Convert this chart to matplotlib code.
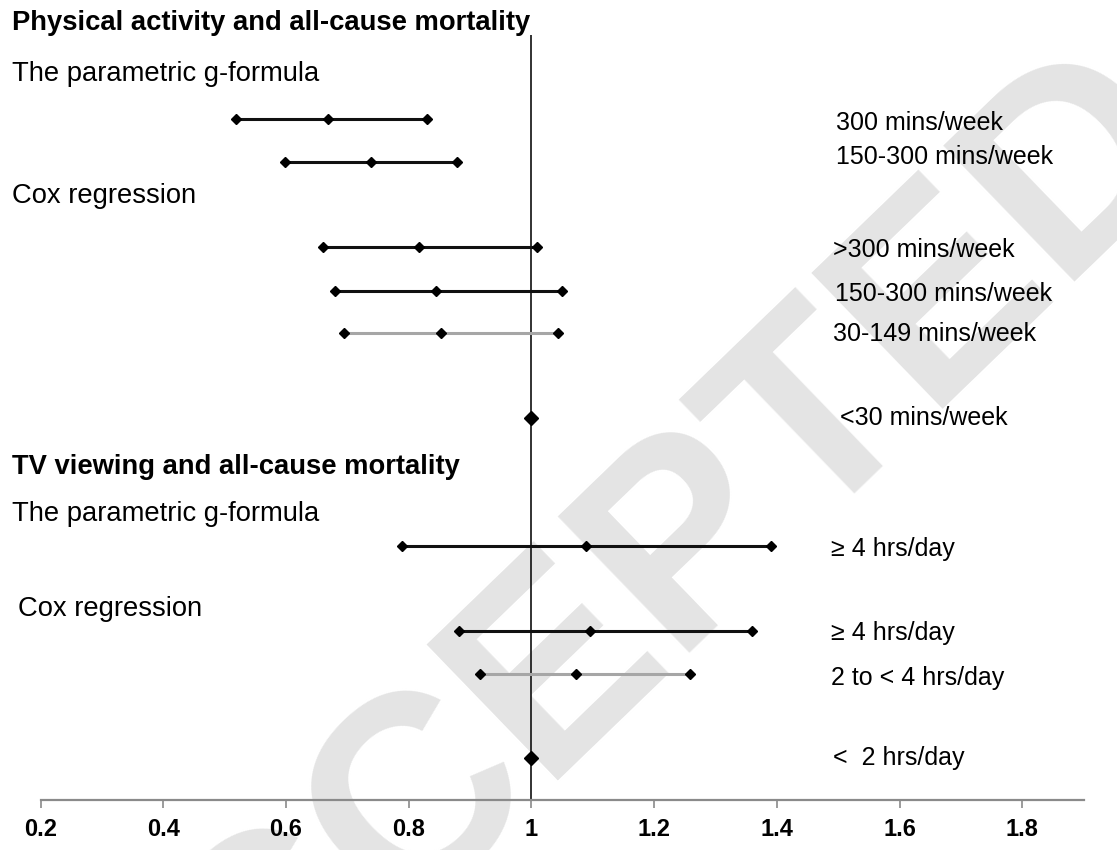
import numpy as np
import matplotlib
matplotlib.use("Agg")
import matplotlib.pyplot as plt
import matplotlib.ticker as ticker

plt.rcParams['font.family'] = ['Liberation Sans', 'DejaVu Sans']

## DATA ##
# physical activity rows (top to bottom)
pa_labels = ["300 mins/week", "150-300 mins/week",
             ">300 mins/week", "150-300 mins/week", "30-149 mins/week", "<30 mins/week"]
pa_hr = [0.669, 0.738, 0.817, 0.845, 0.852, 1.0]
pa_low = [0.518, 0.598, 0.661, 0.680, 0.695, 1.0]
pa_high = [0.829, 0.878, 1.009, 1.050, 1.044, 1.0]

# TV viewing rows (top to bottom)
tv_labels = ["\u2265 4 hrs/day", "\u2265 4 hrs/day", "2 to < 4 hrs/day", "<  2 hrs/day"]
tv_hr = [1.089, 1.096, 1.073, 1.0]
tv_low = [0.789, 0.882, 0.916, 1.0]
tv_high = [1.390, 1.360, 1.258, 1.0]

x_ticks = [0.2, 0.4, 0.6, 0.8, 1.0, 1.2, 1.4, 1.6, 1.8]
x_ticklabels = ["0.2", "0.4", "0.6", "0.8", "1", "1.2", "1.4", "1.6", "1.8"]

## LAYOUT (pixel rows of the 1117x850 canvas) ##
W, H = 1117, 850
pa_rows = [119, 162, 247, 291, 333, 418]
tv_rows = [546, 631, 674, 758]
pa_label_x = [836, 836, 833, 835, 833, 840]
pa_label_y = [123, 157, 250, 294, 334, 418]
tv_label_x = [831, 831, 831, 833]
tv_label_y = [549, 633, 678, 758]
pa_grey = [False, False, False, False, True, False]
tv_grey = [False, False, True, False]

fig = plt.figure(figsize=(W / 100, H / 100), dpi=100, facecolor='white')

def fx(x): return x / W
def fy(y): return 1 - y / H

ax_left, ax_right, ax_top, ax_bot = 40.6, 1083.6, 35, 800
ax = fig.add_axes([fx(ax_left), fy(ax_bot), (ax_right - ax_left) / W, (ax_bot - ax_top) / H])
ax.patch.set_visible(False)
ax.set_xlim(0.2, 1.9)
ax.set_ylim(ax_bot, ax_top)

# watermark behind everything
fig.text(fx(610), fy(625), "ACCEPTED", rotation=44, fontsize=198, fontweight='bold',
         color='#e4e4e4', ha='center', va='center', rotation_mode='anchor', zorder=-5)

ax.axvline(1.0, color='#222222', linewidth=1.3, zorder=1)

def draw_rows(hr, lo, hi, rows, grey):
    for h, l, u, y, g in zip(hr, lo, hi, rows, grey):
        if l == u:
            ax.plot([h], [y], marker='D', markersize=7.2, color='black', linestyle='none', zorder=4)
            continue
        ax.plot([l, u], [y, y], color='#a6a6a6' if g else '#111111', linewidth=2.2,
                solid_capstyle='butt', zorder=2)
        ax.plot([l, h, u], [y] * 3, marker='D', markersize=5.2, color='black',
                linestyle='none', zorder=3)

draw_rows(pa_hr, pa_low, pa_high, pa_rows, pa_grey)
draw_rows(tv_hr, tv_low, tv_high, tv_rows, tv_grey)

for lab, y, x in zip(pa_labels, pa_label_y, pa_label_x):
    fig.text(fx(x), fy(y), lab, fontsize=18, va='center', ha='left')
for lab, y, x in zip(tv_labels, tv_label_y, tv_label_x):
    fig.text(fx(x), fy(y), lab, fontsize=18, va='center', ha='left')

# section headers
fig.text(fx(12), fy(23), "Physical activity and all-cause mortality", fontsize=19.7,
         fontweight='bold', va='center')
fig.text(fx(12), fy(74), "The parametric g-formula", fontsize=19.7, va='center')
fig.text(fx(12), fy(196), "Cox regression", fontsize=19.7, va='center')
fig.text(fx(12), fy(467), "TV viewing and all-cause mortality", fontsize=19.7,
         fontweight='bold', va='center')
fig.text(fx(12), fy(514), "The parametric g-formula", fontsize=19.7, va='center')
fig.text(fx(18), fy(609), "Cox regression", fontsize=19.7, va='center')

# axis styling
for name, spine in ax.spines.items():
    if name == 'bottom':
        spine.set_color('#8a8a8a')
        spine.set_linewidth(1.6)
    else:
        spine.set_visible(False)
ax.set_yticks([])
ax.xaxis.set_major_locator(ticker.FixedLocator(x_ticks))
ax.set_xticklabels(x_ticklabels, fontsize=17, fontweight='bold')
ax.tick_params(axis='x', direction='out', length=6, width=1.2, color='#8a8a8a', pad=7)

fig.savefig("out.png", dpi=100, facecolor='white')
